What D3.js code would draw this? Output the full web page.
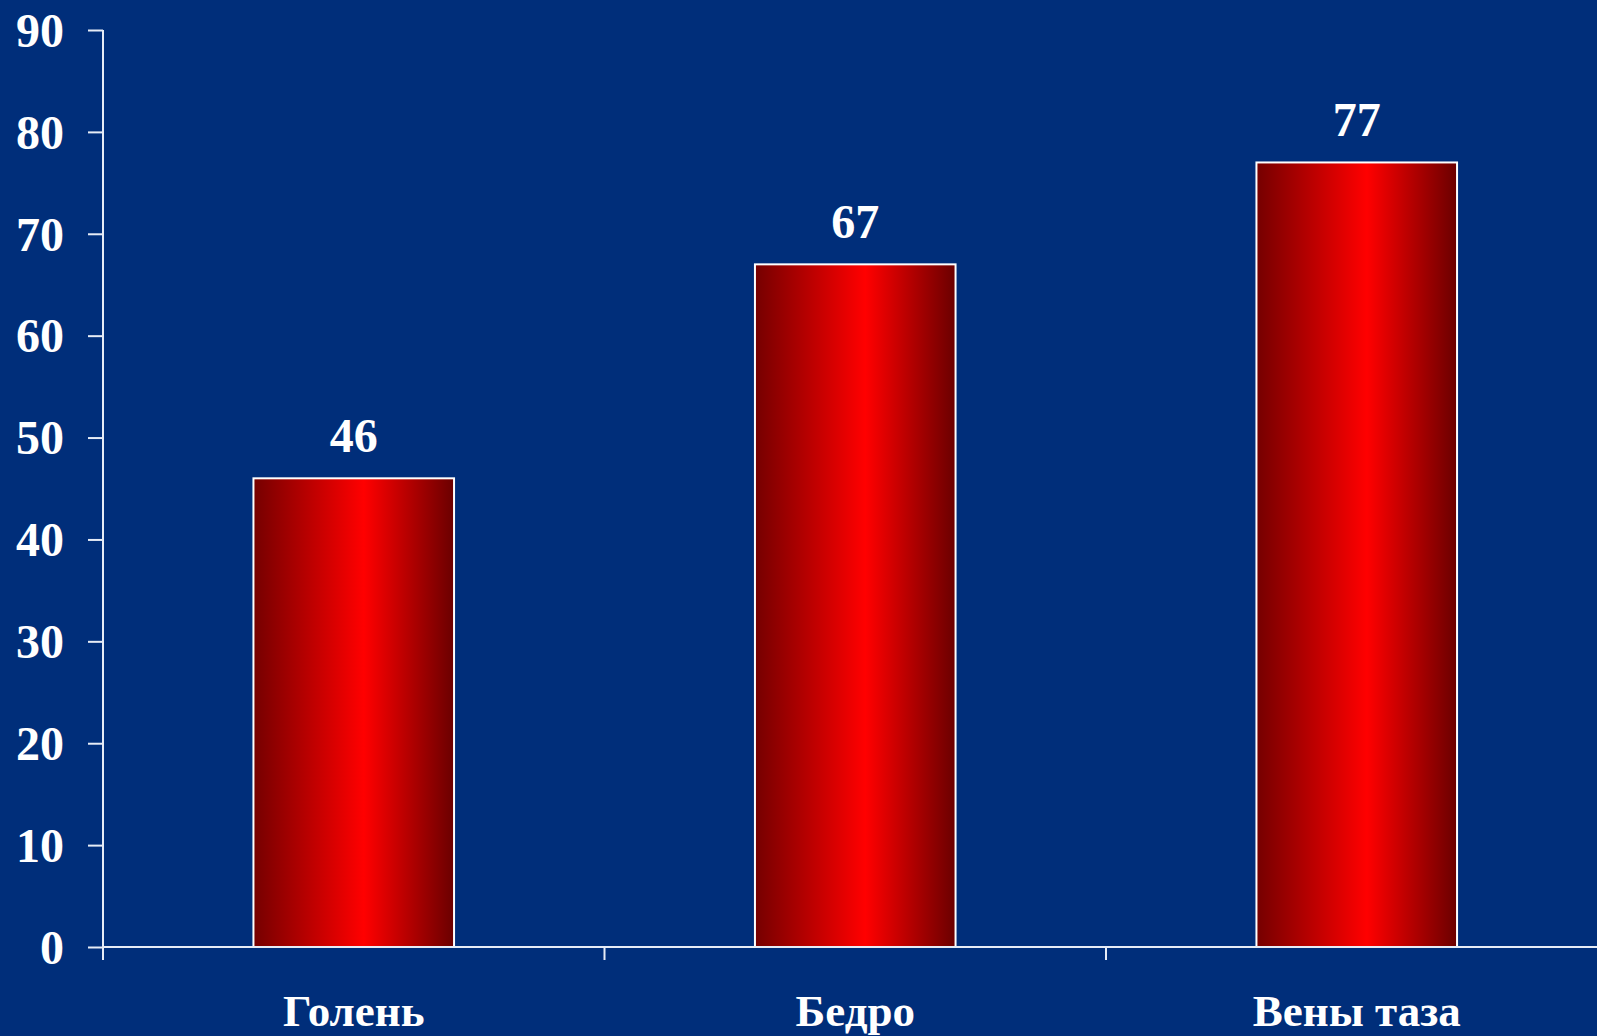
<!DOCTYPE html>
<html><head><meta charset="utf-8">
<script src="https://cdn.jsdelivr.net/npm/d3@7"></script>
<style>html,body{margin:0;padding:0;background:#002e7a;overflow:hidden}</style>
</head><body>
<svg id="chart" width="1597" height="1036"></svg>
<script>
const categories = ["Голень", "Бедро", "Вены таза"];
const values = [46, 67, 77];
const yTicks = [0, 10, 20, 30, 40, 50, 60, 70, 80, 90];

const W = 1597, H = 1036;
const m = {left: 103, top: 30};
const svg = d3.select("#chart");
svg.append("rect").attr("width", W).attr("height", H).attr("fill", "#002e7a");

const defs = svg.append("defs");
const g = defs.append("linearGradient").attr("id", "barGrad").attr("x1", "0%").attr("x2", "100%").attr("y1", "0%").attr("y2", "0%");
g.append("stop").attr("offset", "0%").attr("stop-color", "#750000");
g.append("stop").attr("offset", "55%").attr("stop-color", "#ff0000");
g.append("stop").attr("offset", "100%").attr("stop-color", "#6a0000");

const x = d3.scaleBand().domain(categories).range([m.left, m.left + 3 * 501.5]).paddingInner(0.6).paddingOuter(0.3);
const y = d3.scaleLinear().domain([0, 90]).range([947, 30]);

const font = "'Liberation Serif', 'Times New Roman', serif";
const lineCol = "#e6ecf6";

// bars
svg.append("g").selectAll("rect").data(values).join("rect")
  .attr("x", (d, i) => x(categories[i]))
  .attr("y", d => y(d))
  .attr("width", x.bandwidth())
  .attr("height", d => y(0) - y(d))
  .attr("fill", "url(#barGrad)")
  .attr("stroke", "#ffffff").attr("stroke-width", 2);

// value labels
svg.append("g").selectAll("text").data(values).join("text")
  .attr("x", (d, i) => x(categories[i]) + x.bandwidth() / 2)
  .attr("y", d => y(d) - 26)
  .attr("text-anchor", "middle")
  .attr("fill", "#ffffff").attr("font-family", font).attr("font-weight", "bold").attr("font-size", 48)
  .text(d => d);

// y axis
const yAxis = d3.axisLeft(y).tickValues(yTicks).tickSize(15).tickPadding(24).tickSizeOuter(0);
const ya = svg.append("g").attr("transform", `translate(${m.left},0)`).call(yAxis);
ya.select(".domain").remove();
ya.append("line").attr("x1", 0).attr("x2", 0).attr("y1", y(90)).attr("y2", y(0) + 13).attr("stroke", lineCol).attr("stroke-width", 2);
ya.selectAll(".tick line").attr("stroke", lineCol).attr("stroke-width", 2);
ya.selectAll(".tick text").attr("fill", "#ffffff").attr("font-family", font).attr("font-weight", "bold").attr("font-size", 48).attr("dy", "0.34em");

// x axis
const xa = svg.append("g").attr("transform", `translate(0,${y(0)})`);
xa.append("line").attr("x1", m.left).attr("x2", W).attr("y1", 0).attr("y2", 0).attr("stroke", lineCol).attr("stroke-width", 2);
const boundaries = categories.map((c, i) => m.left + i * 501.5);
xa.selectAll("line.tk").data(boundaries.slice(1)).join("line").attr("class", "tk")
  .attr("x1", d => d).attr("x2", d => d).attr("y1", 0).attr("y2", 13)
  .attr("stroke", lineCol).attr("stroke-width", 2);
xa.selectAll("text").data(categories).join("text")
  .attr("x", d => x(d) + x.bandwidth() / 2)
  .attr("y", 79)
  .attr("text-anchor", "middle")
  .attr("fill", "#ffffff").attr("font-family", font).attr("font-weight", "bold").attr("font-size", 45)
  .text(d => d);
</script>
</body></html>
